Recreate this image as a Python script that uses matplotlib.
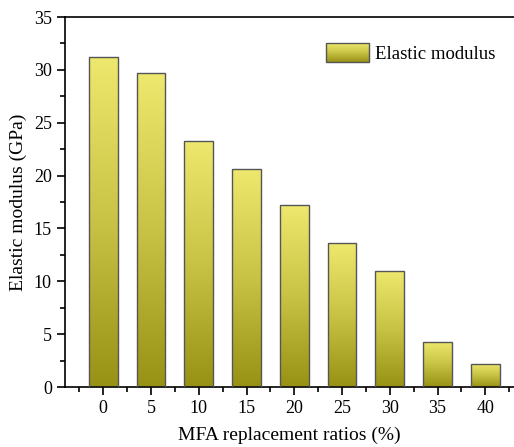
import numpy as np
import matplotlib
matplotlib.use('Agg')
import matplotlib.pyplot as plt
from matplotlib.colors import LinearSegmentedColormap
from matplotlib.patches import Rectangle
from matplotlib.image import BboxImage
from matplotlib.transforms import Bbox, TransformedBbox
from matplotlib.legend_handler import HandlerBase
from matplotlib.ticker import MultipleLocator

plt.rcParams['font.family'] = ['Liberation Serif', 'DejaVu Serif']

ratios = ['0', '5', '10', '15', '20', '25', '30', '35', '40']
modulus = [31.2, 29.7, 23.3, 20.6, 17.2, 13.6, 11.0, 4.3, 2.2]

grad = LinearSegmentedColormap.from_list('olive', ['#989214', '#c8c344', '#eee96e'])
grad_img = np.linspace(0, 1, 256).reshape(-1, 1)


class GradientHandler(HandlerBase):
    def create_artists(self, legend, orig, xd, yd, w, h, fs, trans):
        bb = TransformedBbox(Bbox.from_bounds(-xd, -yd, w, h), trans)
        img = BboxImage(bb, cmap=grad, origin='lower')
        img.set_data(grad_img)
        r = Rectangle((-xd, -yd), w, h, facecolor='none', edgecolor='#555555',
                      lw=1.0, transform=trans)
        return [img, r]


fig = plt.figure(figsize=(5.14, 4.47), dpi=100)
ax = fig.add_axes([65 / 514, 60 / 447, 1 - 65 / 514, 370 / 447])

x = np.arange(len(ratios))
bars = ax.bar(x, modulus, width=0.6, facecolor='none', edgecolor='#555555',
              lw=1.0, zorder=3, label='Elastic modulus')
for b in bars:
    x0, y0 = b.get_x(), b.get_y()
    im = ax.imshow(grad_img, cmap=grad, origin='lower', aspect='auto',
                   extent=[x0, x0 + b.get_width(), y0, y0 + b.get_height()],
                   zorder=2)
    im.set_clip_path(b)

ax.set_xlim(-0.8, 8.6)
ax.set_ylim(0, 35)
ax.set_xticks(x)
ax.set_xticklabels(ratios)
ax.xaxis.set_minor_locator(MultipleLocator(1, offset=0.5))
ax.yaxis.set_major_locator(MultipleLocator(5))
ax.yaxis.set_minor_locator(MultipleLocator(2.5))
ax.tick_params(which='major', direction='out', length=6, width=1.2, labelsize=13)
ax.tick_params(which='minor', direction='out', length=3.5, width=1.2)
ax.spines['right'].set_visible(False)
for s in ['left', 'bottom', 'top']:
    ax.spines[s].set_linewidth(1.2)

ax.set_xlabel('MFA replacement ratios (%)', fontsize=14, labelpad=7)
ax.set_ylabel('Elastic modulus (GPa)', fontsize=14, labelpad=5)

ax.legend(handles=[bars], handler_map={type(bars): GradientHandler()},
          loc='upper right', bbox_to_anchor=(0.995, 0.975), frameon=False,
          fontsize=13.5, handlelength=2.3, handleheight=1.15, handletextpad=0.3)

fig.savefig('out.png', dpi=100)
